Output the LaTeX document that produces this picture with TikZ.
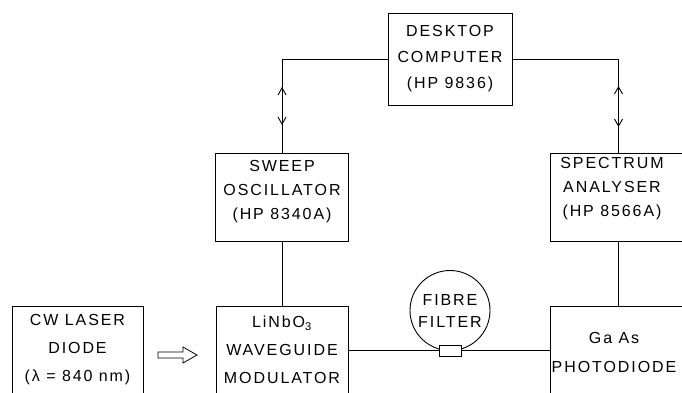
\documentclass[tikz,border=0pt]{standalone}
\usepackage{fontspec}
\newfontfamily\lab{Liberation Sans}[LetterSpace=12]
\usetikzlibrary{arrows.meta}
\begin{document}
\begin{tikzpicture}[x=1pt,y=-1pt,line width=0.9pt,
                       >={Straight Barb[length=7pt,width=8pt]},
                       box/.style={draw,rectangle,inner sep=0pt,align=center,
                                   font=\lab\fontsize{16}{26}\selectfont},
                       txt/.style={inner sep=0pt,align=center,font=\lab\fontsize{16}{24}\selectfont}
                      ]
  \clip (0,0) rectangle (682,392);
  \node[box,minimum width=124pt,minimum height=92pt] (desk) at (450,59) {DESKTOP\\COMPUTER\\(HP 9836)};
  \node[box,minimum width=133pt,minimum height=88pt,text depth=15pt,
        font=\lab\fontsize{16}{24}\selectfont] (sweep) at (282,197) {SWEEP\\OSCILLATOR\\(HP 8340A)};
  \node[box,minimum width=136pt,minimum height=88pt] (spec) at (618.5,197) {};
  \node[txt] (specTxt) at (612,189) {SPECTRUM\\ANALYSER\\(HP 8566A)};
  \node[box,minimum width=131pt,minimum height=88pt,
        font=\lab\fontsize{16}{28}\selectfont] (laser) at (77.5,350) {CW LASER\\DIODE\\(λ = 840 nm)};
  \node[box,minimum width=132pt,minimum height=88pt,
        font=\lab\fontsize{16}{28}\selectfont] (mod) at (282,350) {LiNbO\textsubscript{3}\\WAVEGUIDE\\MODULATOR};
  \node[box,minimum width=136pt,minimum height=88pt] (photo) at (618.5,350) {};
  \node[txt,font=\lab\fontsize{16}{29}\selectfont] (photoTxt) at (614,352.5) {Ga As\\PHOTODIODE};
  \node[draw,circle,minimum size=80pt,inner sep=0pt,align=center,
        font=\lab\fontsize{16}{22}\selectfont] (fil) at (450,310.5) {FIBRE\\FILTER};

  % hollow beam arrow
  \draw[line width=0.8pt] (158,352) -- (183,352) -- (183,347) -- (197,355)
        -- (183,363) -- (183,358) -- (158,358) -- cycle;

  % links
  \draw (desk.west) -| (sweep.north);
  \draw (desk.east) -| (spec.north);
  \draw (sweep.south) -- (mod.north);
  \draw (spec.south) -- (photo.north);
  \draw (mod.east) -- (photo.west);
  \node[draw,fill=white,rectangle,minimum width=22pt,minimum height=11pt,inner sep=0pt] (cpl) at (450,350.5) {};

  % handshake arrows
  \coordinate (lu) at (282,87);
  \coordinate (ld) at (282,125);
  \coordinate (ru) at (618.5,86);
  \coordinate (rd) at (618.5,127);
  \draw[<->] (lu) -- (ld);
  \draw[<->] (ru) -- (rd);
\end{tikzpicture}
\end{document}
